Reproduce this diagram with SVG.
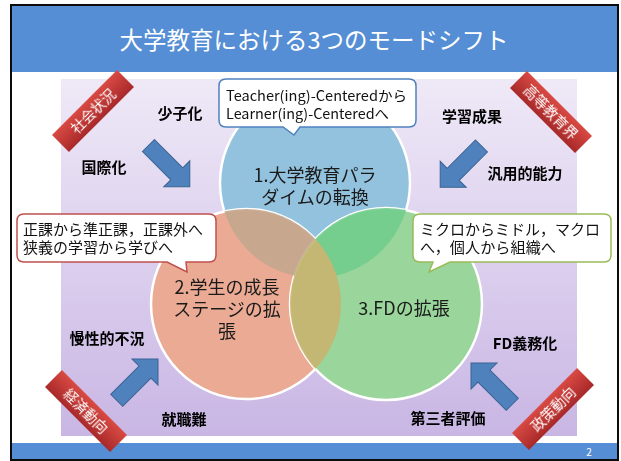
<svg xmlns="http://www.w3.org/2000/svg" width="621" height="461" viewBox="0 0 621 461">
<defs>
<style>
.jp{font-family:"Noto Sans CJK JP","Noto Sans",sans-serif;}
.lbl{font-family:"Noto Sans CJK JP","Noto Sans",sans-serif;font-weight:700;font-size:15px;fill:#000;text-anchor:middle;}
.ct{font-family:"Noto Sans CJK JP","Noto Sans",sans-serif;font-size:18px;fill:#1a1a1a;text-anchor:middle;}
.co{font-family:"Noto Sans CJK JP","Noto Sans",sans-serif;font-size:15px;fill:#111;}
.rb{font-family:"Noto Sans CJK JP","Noto Sans",sans-serif;font-size:14px;fill:#fff;text-anchor:middle;}
.arrow{fill:#4F81BD;stroke:#3A6393;stroke-width:1;}
.rib{fill:url(#ribg);}
</style>
<linearGradient id="bg" x1="0" y1="0" x2="0" y2="1">
<stop offset="0" stop-color="#EFE9F7"/>
<stop offset="1" stop-color="#C9B6E4"/>
</linearGradient>
<linearGradient id="ribg" x1="0" y1="0" x2="0" y2="1">
<stop offset="0" stop-color="#D94A43"/>
<stop offset="1" stop-color="#A8292A"/>
</linearGradient>
<clipPath id="c1"><circle cx="315" cy="183" r="95"/></clipPath>
<clipPath id="c2"><circle cx="246" cy="304" r="95"/></clipPath>
<path id="arr" d="M0,-8.5 L40,-8.5 L40,-18.4 L58.4,0 L40,18.4 L40,8.5 L0,8.5 Z"/>
</defs>

<rect x="11" y="5" width="607" height="455" fill="#fff" stroke="#0b0b0b" stroke-width="2"/>
<g id="title">
<rect x="12" y="6" width="605" height="66" fill="#558ED5"/>
<text x="314" y="49" class="jp" font-size="23.5" fill="#fff" text-anchor="middle">大学教育における3つのモードシフト</text>
</g>
<rect x="61" y="79" width="516" height="357" fill="url(#bg)"/>
<g id="footer">
<rect x="12" y="443" width="605" height="16" fill="#558ED5"/>
<text x="589" y="456" class="jp" font-size="10" fill="#fff" text-anchor="middle">2</text>
</g>

<g id="venn">
<g id="node-1"><circle cx="315" cy="183" r="95" fill="#92C2DD" stroke="#fff" stroke-width="2.5"/></g>
<g id="node-2"><circle cx="246" cy="304" r="95" fill="#EAAA94" stroke="#fff" stroke-width="2.5"/></g>
<g id="node-3"><circle cx="386" cy="304" r="96" fill="#9AD59B" stroke="#fff" stroke-width="2.5"/></g>
<g opacity="0.9">
<circle cx="246" cy="304" r="95" fill="#C5A88F" clip-path="url(#c1)"/>
<circle cx="386" cy="304" r="96" fill="#72CD8D" clip-path="url(#c1)"/>
<circle cx="386" cy="304" r="96" fill="#C9B46F" clip-path="url(#c2)"/>
</g>
<text class="ct" x="315" y="181.5">1.大学教育パラ<tspan x="315" dy="22.5">ダイムの転換</tspan></text>
<text class="ct" x="227" y="293.5">2.学生の成長<tspan x="227" dy="22.5">ステージの拡</tspan><tspan x="227" dy="22">張</tspan></text>
<text class="ct" x="404" y="315">3.FDの拡張</text>
</g>

<g id="callout-top">
<path d="M226,79 H409 Q416,79 416,86 V120 Q416,127 409,127 H300 L294,135 L283,127 H226 Q219,127 219,120 V86 Q219,79 226,79 Z" fill="#fff" stroke="#4F81BD" stroke-width="1.5"/>
<text x="226" y="101" class="jp" font-size="14" fill="#111"><tspan textLength="181" lengthAdjust="spacingAndGlyphs">Teacher(ing)-Centeredから</tspan><tspan x="226" dy="18" textLength="163" lengthAdjust="spacingAndGlyphs">Learner(ing)-Centeredへ</tspan></text>
</g>
<g id="callout-left">
<path d="M24,214 H209 Q216,214 216,221 V255 Q216,262 209,262 H186 L187,272 L167,262 H24 Q17,262 17,255 V221 Q17,214 24,214 Z" fill="#fff" stroke="#C0504D" stroke-width="1.5"/>
<text x="23" y="234.5" class="co"><tspan textLength="180" lengthAdjust="spacingAndGlyphs">正課から準正課，正課外へ</tspan><tspan x="23" dy="18" textLength="150" lengthAdjust="spacingAndGlyphs">狭義の学習から学びへ</tspan></text>
</g>
<g id="callout-right">
<path d="M420,214 H604 Q611,214 611,221 V255 Q611,262 604,262 H450 L429,272 L433,262 H420 Q413,262 413,255 V221 Q413,214 420,214 Z" fill="#fff" stroke="#9BBB59" stroke-width="1.5"/>
<text x="420" y="234.5" class="co"><tspan textLength="180" lengthAdjust="spacingAndGlyphs">ミクロからミドル，マクロ</tspan><tspan x="420" dy="18" textLength="136" lengthAdjust="spacingAndGlyphs">へ，個人から組織へ</tspan></text>
</g>

<g id="connectors">
<use href="#arr" class="arrow" transform="translate(148.5,145.5) rotate(45)"/>
<use href="#arr" class="arrow" transform="translate(481.5,146) rotate(135)"/>
<use href="#arr" class="arrow" transform="translate(116.7,400.3) rotate(-45)"/>
<use href="#arr" class="arrow" transform="translate(512.3,404.3) rotate(-135)"/>
</g>

<g id="labels">
<text class="lbl" x="180" y="118.5">少子化</text>
<text class="lbl" x="104" y="172.5">国際化</text>
<text class="lbl" x="472" y="121.5">学習成果</text>
<text class="lbl" x="525" y="178.5">汎用的能力</text>
<text class="lbl" x="107" y="343.5">慢性的不況</text>
<text class="lbl" x="184" y="424.5">就職難</text>
<text class="lbl" x="525" y="348.5">FD義務化</text>
<text class="lbl" x="448" y="423.5">第三者評価</text>
</g>

<g id="ribbon-social" transform="translate(93,111) rotate(-45)">
<rect class="rib" x="-46" y="-12" width="92" height="24"/>
<text class="rb" x="0" y="5">社会状況</text>
</g>
<g id="ribbon-higher" transform="translate(551,112) rotate(45)">
<rect class="rib" x="-46" y="-12" width="92" height="24"/>
<text class="rb" x="0" y="5">高等教育界</text>
</g>
<g id="ribbon-economy" transform="translate(86,411) rotate(45)">
<rect class="rib" x="-46" y="-12" width="92" height="24"/>
<text class="rb" x="0" y="5">経済動向</text>
</g>
<g id="ribbon-policy" transform="translate(553,409) rotate(-45)">
<rect class="rib" x="-46" y="-12" width="92" height="24"/>
<text class="rb" x="0" y="5">政策動向</text>
</g>
</svg>
